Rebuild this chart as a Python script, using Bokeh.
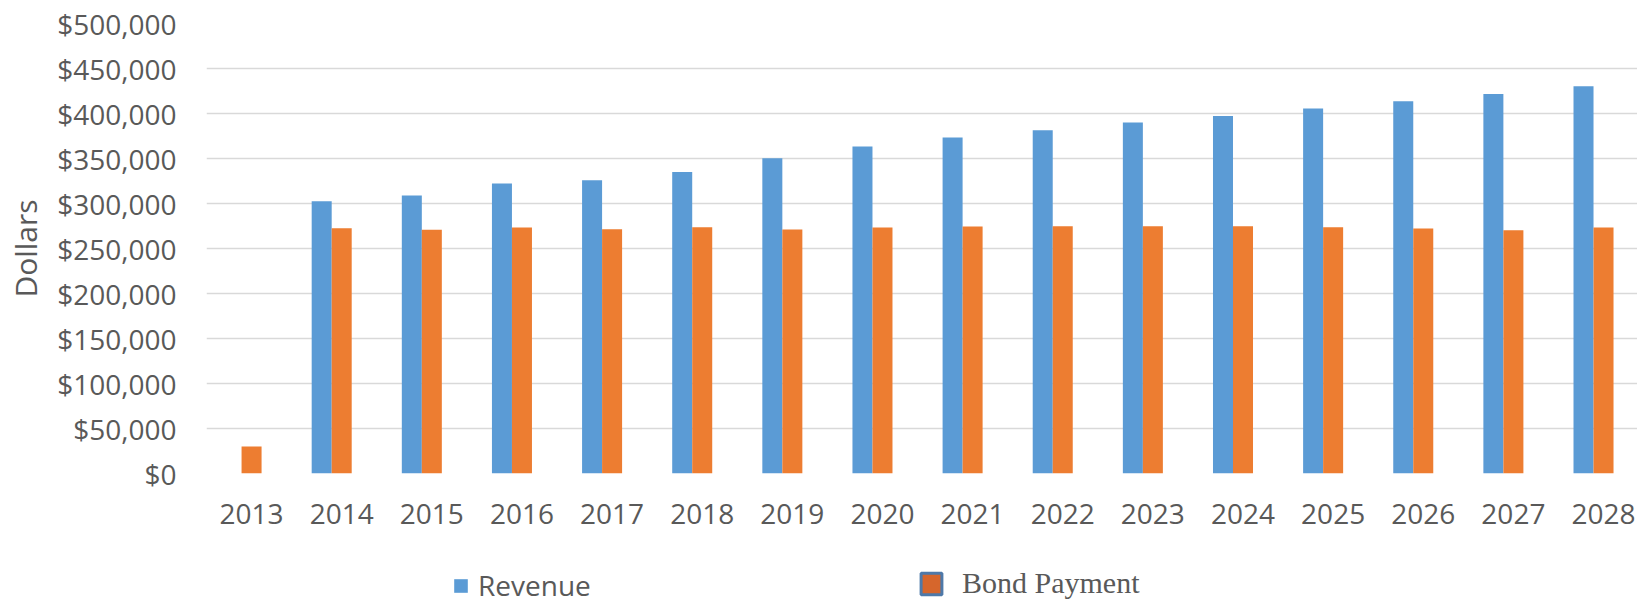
from bokeh.plotting import figure
from bokeh.layouts import column
from bokeh.models import (ColumnDataSource, FixedTicker, NumeralTickFormatter, Range1d,
                          Legend, LegendItem, GlobalInlineStyleSheet)
from bokeh.embed import file_html
from bokeh.resources import INLINE

# ---- data ----
years = [2013, 2014, 2015, 2016, 2017, 2018, 2019, 2020,
         2021, 2022, 2023, 2024, 2025, 2026, 2027, 2028]
revenue = [0, 302500, 308800, 322200, 325900, 335100, 350300, 363300,
           373300, 381400, 390000, 397300, 405500, 413700, 421800, 430300]
bond_payment = [30000, 272500, 270700, 273300, 271400, 273700, 271100, 273300,
                274400, 274800, 274800, 274800, 273700, 272200, 270300, 273300]
y_ticks = [0, 50000, 100000, 150000, 200000, 250000, 300000, 350000, 400000, 450000, 500000]
series_names = ["Revenue", "Bond Payment"]

idx = list(range(len(years)))
BAR_W = 0.222
src = ColumnDataSource(dict(
    x_rev=[i - BAR_W for i in idx],
    x_bond=idx,
    revenue=revenue,
    bond=bond_payment,
))

TXT = "#595959"
GRID = "#D9D9D9"
BLUE = "#5B9BD5"
ORANGE = "#ED7D31"
W = 1637

p = figure(width=W, height=548, output_backend="svg", toolbar_location=None,
           x_range=Range1d(-0.5, 15.377), y_range=Range1d(0, 500000),
           min_border_left=206, min_border_right=0, min_border_top=23, min_border_bottom=75)
p.outline_line_color = None
p.background_fill_color = "white"

rev_r = p.vbar(x="x_rev", top="revenue", width=BAR_W, source=src,
               fill_color=BLUE, line_color=None)
bond_r = p.vbar(x="x_bond", top="bond", width=BAR_W, source=src,
                fill_color=ORANGE, line_color=None)

# axes
p.xaxis.ticker = FixedTicker(ticks=idx)
p.xaxis.major_label_overrides = {i: str(y) for i, y in zip(idx, years)}
p.xaxis.axis_line_color = None
p.xaxis.major_tick_line_color = None
p.xaxis.minor_tick_line_color = None
p.xaxis.major_label_text_font = "Open Sans"
p.xaxis.major_label_text_font_size = "28px"
p.xaxis.major_label_text_color = TXT
p.xaxis.major_label_standoff = 24

p.yaxis.ticker = FixedTicker(ticks=y_ticks)
p.yaxis.formatter = NumeralTickFormatter(format="$0,0")
p.yaxis.axis_line_color = None
p.yaxis.major_tick_line_color = None
p.yaxis.minor_tick_line_color = None
p.yaxis.major_label_text_font = "Open Sans"
p.yaxis.major_label_text_font_size = "28px"
p.yaxis.major_label_text_color = TXT
p.yaxis.major_label_standoff = 24
p.yaxis.axis_label = "Dollars"
p.yaxis.axis_label_text_font = "Open Sans"
p.yaxis.axis_label_text_font_size = "30px"
p.yaxis.axis_label_text_font_style = "normal"
p.yaxis.axis_label_text_color = TXT
p.yaxis.axis_label_standoff = 8

p.xgrid.grid_line_color = None
p.ygrid.grid_line_color = GRID
p.ygrid.grid_line_width = 1.5

# ---- legend strip ----
q = figure(width=W, height=58, output_backend="svg", toolbar_location=None,
           x_range=Range1d(0, 1), y_range=Range1d(0, 1),
           min_border_left=0, min_border_right=0, min_border_top=0, min_border_bottom=0)
q.outline_line_color = None
q.axis.visible = False
q.grid.visible = False
# hidden one-point renderers that only provide the legend swatches
sw_rev = q.vbar(x=[0], top=[0], width=0, fill_color=BLUE, line_color=None, visible=False)
sw_bond = q.vbar(x=[0], top=[0], width=0, fill_color="#D6662C",
                 line_color="#4E79A9", line_width=3, visible=False)

leg1 = Legend(items=[LegendItem(label=series_names[0], renderers=[sw_rev])],
              location=(246, 2), padding=0, margin=0, border_line_color=None,
              background_fill_alpha=0, glyph_width=17, glyph_height=17,
              label_standoff=9, label_text_font="Open Sans", label_text_font_size="28px",
              label_text_color=TXT, label_height=17)
leg2 = Legend(items=[LegendItem(label=series_names[1], renderers=[sw_bond])],
              location=(712, 6), padding=0, margin=0, border_line_color=None,
              background_fill_alpha=0, glyph_width=26, glyph_height=27,
              label_standoff=18, label_text_font="Liberation Serif", label_text_font_size="30px",
              label_text_color=TXT, label_height=27)
q.add_layout(leg1, "center")
q.add_layout(leg2, "center")

layout = column(p, q, spacing=0)
layout.stylesheets = [GlobalInlineStyleSheet(css="html, body { margin: 0; padding: 0; overflow: hidden; }")]
open("out.html", "w").write(file_html(layout, INLINE))
